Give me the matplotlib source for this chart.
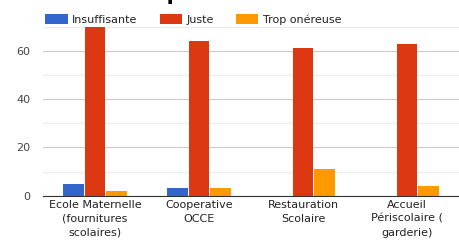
import matplotlib
matplotlib.use("Agg")
import matplotlib.pyplot as plt
import numpy as np

# --- data ---
categories = ["Ecole Maternelle\n(fournitures\nscolaires)", "Cooperative\nOCCE",
              "Restauration\nScolaire", "Accueil\nPériscolaire (\ngarderie)"]
series_names = ["Insuffisante", "Juste", "Trop onéreuse"]
insuffisante = [5, 3, 0, 0]
juste = [71, 64, 61, 63]
trop_onereuse = [2, 3, 11, 4]
colors = ["#3366cc", "#dc3912", "#ff9900"]
yticks = [0, 20, 40, 60]

fig = plt.figure(figsize=(4.59, 2.42), dpi=100)
ax = fig.add_axes([43 / 459, 1 - 195.7 / 242, 416 / 459, 169 / 242])

x = np.arange(len(categories))
w = 0.2
for i, (name, vals) in enumerate(zip(series_names, [insuffisante, juste, trop_onereuse])):
    ax.bar(x + (i - 1) * 0.21, vals, width=w, color=colors[i], label=name, zorder=3)

ax.set_xlim(-0.5, 3.5)
ax.set_ylim(0, 70)
ax.set_yticks(yticks)
ax.set_yticks([10, 30, 50, 70], minor=True)
ax.grid(axis="y", which="major", color="#cccccc", linewidth=0.8, zorder=0)
ax.grid(axis="y", which="minor", color="#ececec", linewidth=0.8, zorder=0)
ax.tick_params(axis="y", which="both", length=0, labelsize=8, labelcolor="#444444", pad=9)
ax.set_xticks(x)
ax.set_xticklabels(categories, fontsize=8, color="#222222", linespacing=1.5)
ax.tick_params(axis="x", length=0, pad=3)
for s in ["top", "right", "left"]:
    ax.spines[s].set_visible(False)
ax.spines["bottom"].set_color("#333333")
ax.spines["bottom"].set_linewidth(0.8)
ax.spines["bottom"].set_zorder(4)

ax.legend(loc="lower left", bbox_to_anchor=(-0.005, 0.985), ncol=3, frameon=False,
          fontsize=8, handlelength=2.0, handleheight=1.0, handletextpad=0.4,
          columnspacing=2.0, borderaxespad=0, labelcolor="#222222")

# title mostly cut off at the top of the picture
fig.text(73 / 459, 0.998, "Le coût pour les familles des services scolaires",
         ha="left", va="baseline", fontsize=15, fontweight="bold", color="#000000")

fig.savefig("out.png", dpi=100)
